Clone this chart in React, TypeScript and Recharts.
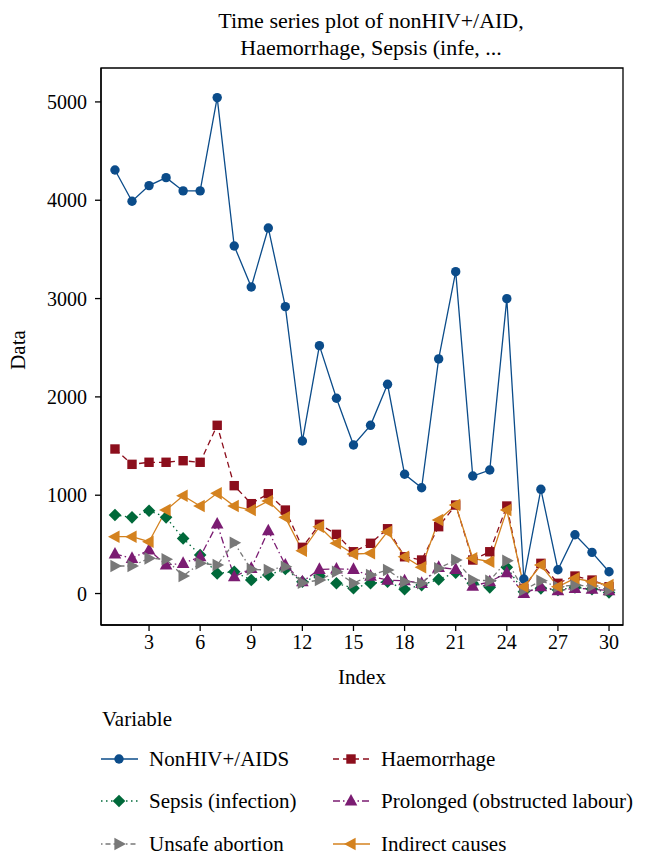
import React from 'react';
import { LineChart, Line, XAxis, YAxis, ReferenceArea } from 'recharts';

const indexLabels = [1, 2, 3, 4, 5, 6, 7, 8, 9, 10, 11, 12, 13, 14, 15, 16, 17, 18, 19, 20, 21, 22, 23, 24, 25, 26, 27, 28, 29, 30];
const nonHIV = [4308, 3990, 4149, 4230, 4095, 4095, 5044, 3535, 3118, 3718, 2918, 1551, 2521, 1986, 1511, 1711, 2128, 1213, 1076, 2386, 3274, 1195, 1256, 2999, 148, 1060, 242, 598, 419, 222];
const haemorrhage = [1470, 1314, 1335, 1335, 1351, 1335, 1711, 1097, 914, 1015, 849, 470, 704, 602, 425, 511, 659, 374, 341, 680, 900, 341, 425, 890, 53, 307, 104, 178, 137, 69];
const sepsis = [799, 775, 842, 775, 561, 392, 205, 222, 137, 188, 250, 120, 180, 104, 55, 104, 120, 43, 86, 144, 212, 104, 63, 267, 18, 53, 36, 63, 45, 10];
const prolonged = [402, 358, 443, 290, 307, 374, 707, 171, 256, 639, 290, 120, 246, 250, 246, 178, 137, 130, 104, 267, 246, 76, 120, 212, 2, 69, 30, 53, 45, 30];
const unsafe = [280, 280, 358, 348, 178, 307, 290, 517, 246, 239, 273, 110, 137, 222, 104, 188, 239, 120, 104, 256, 341, 137, 130, 334, 36, 130, 69, 86, 76, 36];
const indirect = [578, 578, 527, 849, 995, 890, 1019, 890, 849, 941, 775, 435, 680, 511, 402, 409, 629, 374, 267, 748, 900, 358, 324, 849, 69, 290, 69, 155, 120, 86];

const xTicks = [3, 6, 9, 12, 15, 18, 21, 24, 27, 30];
const yTicks = [0, 1000, 2000, 3000, 4000, 5000];
const titleLines = ['Time series plot of nonHIV+/AID,', 'Haemorrhage, Sepsis (infe, ...'];

const FONT = '"Liberation Serif", "Times New Roman", serif';

const data = indexLabels.map((idx, i) => ({
  idx,
  nonHIV: nonHIV[i],
  haemorrhage: haemorrhage[i],
  sepsis: sepsis[i],
  prolonged: prolonged[i],
  unsafe: unsafe[i],
  indirect: indirect[i],
}));

type Shape = 'circle' | 'square' | 'diamond' | 'up' | 'right' | 'left';

function marker(shape: Shape, cx: number, cy: number, color: string, key?: string | number) {
  switch (shape) {
    case 'circle':
      return <circle key={key} cx={cx} cy={cy} r={4.7} fill={color} />;
    case 'square':
      return <rect key={key} x={cx - 4.7} y={cy - 4.7} width={9.4} height={9.4} fill={color} />;
    case 'diamond':
      return <polygon key={key} points={`${cx},${cy - 6.3} ${cx + 6.3},${cy} ${cx},${cy + 6.3} ${cx - 6.3},${cy}`} fill={color} />;
    case 'up':
      return <polygon key={key} points={`${cx},${cy - 7} ${cx + 6.3},${cy + 4.6} ${cx - 6.3},${cy + 4.6}`} fill={color} />;
    case 'right':
      return <polygon key={key} points={`${cx + 7},${cy} ${cx - 4.6},${cy - 6.3} ${cx - 4.6},${cy + 6.3}`} fill={color} />;
    case 'left':
      return <polygon key={key} points={`${cx - 7},${cy} ${cx + 4.6},${cy - 6.3} ${cx + 4.6},${cy + 6.3}`} fill={color} />;
  }
  return null;
}

const series = [
  { key: 'nonHIV', name: 'NonHIV+/AIDS', color: '#0B4C8A', dash: undefined as string | undefined, shape: 'circle' as Shape },
  { key: 'haemorrhage', name: 'Haemorrhage', color: '#8C0E1C', dash: '6 4', shape: 'square' as Shape },
  { key: 'sepsis', name: 'Sepsis (infection)', color: '#00693A', dash: '1.5 3.5', shape: 'diamond' as Shape },
  { key: 'prolonged', name: 'Prolonged (obstructed labour)', color: '#7B1C72', dash: '7 3 1.5 3', shape: 'up' as Shape },
  { key: 'unsafe', name: 'Unsafe abortion', color: '#787878', dash: '1.5 3 5 3', shape: 'right' as Shape },
  { key: 'indirect', name: 'Indirect causes', color: '#D4821F', dash: undefined as string | undefined, shape: 'left' as Shape },
];

const legendPos = [
  { x: 101, y: 759 },
  { x: 333, y: 759 },
  { x: 101, y: 801 },
  { x: 333, y: 801 },
  { x: 101, y: 844 },
  { x: 333, y: 844 },
];

export default function App() {
  return (
    <div style={{ position: 'absolute', left: 0, top: 0, width: 645, height: 857, background: '#fff' }}>
      <LineChart
        width={645}
        height={857}
        data={data}
        margin={{ top: 68, right: 22, left: 0, bottom: 172 }}
      >
        <XAxis
          dataKey="idx"
          type="number"
          domain={[0.18, 30.82]}
          ticks={xTicks}
          allowDataOverflow
          height={60}
          tickSize={6}
          tickMargin={4}
          tick={{ fontSize: 20, fill: '#000', fontFamily: FONT }}
          axisLine={{ stroke: '#000', strokeWidth: 1.3 }}
          tickLine={{ stroke: '#000', strokeWidth: 1.3 }}
        />
        <YAxis
          type="number"
          domain={[-320, 5345]}
          ticks={yTicks}
          allowDataOverflow
          width={101}
          tickSize={6}
          tickMargin={8}
          tick={{ fontSize: 20, fill: '#000', fontFamily: FONT }}
          axisLine={{ stroke: '#000', strokeWidth: 1.3 }}
          tickLine={{ stroke: '#000', strokeWidth: 1.3 }}
        />
        <ReferenceArea x1={0.18} x2={30.82} y1={-320} y2={5345} fill="none" stroke="#000" strokeWidth={1.3} ifOverflow="visible" />
        {series.map((s) => (
          <Line
            key={s.key}
            dataKey={s.key}
            name={s.name}
            type="linear"
            stroke={s.color}
            strokeWidth={1.3}
            strokeDasharray={s.dash}
            isAnimationActive={false}
            activeDot={false}
            dot={(p: any) => marker(s.shape, p.cx, p.cy, s.color, `${s.key}-${p.index}`)}
          />
        ))}
      </LineChart>
      <svg
        width={645}
        height={857}
        style={{ position: 'absolute', left: 0, top: 0, pointerEvents: 'none' }}
        fontFamily={FONT}
      >
        <text x={371} y={28} textAnchor="middle" fontSize={22} fill="#000">{titleLines[0]}</text>
        <text x={371} y={55} textAnchor="middle" fontSize={22} fill="#000">{titleLines[1]}</text>
        <text x={18} y={350} textAnchor="middle" dominantBaseline="central" fontSize={21} fill="#000" transform="rotate(-90 18 350)">Data</text>
        <text x={362} y={684} textAnchor="middle" fontSize={21} fill="#000">Index</text>
        <text x={102} y={726} fontSize={21} fill="#000">Variable</text>
        {series.map((s, i) => {
          const p = legendPos[i];
          return (
            <g key={s.key}>
              <line x1={p.x} y1={p.y} x2={p.x + 37} y2={p.y} stroke={s.color} strokeWidth={1.3} strokeDasharray={s.dash} />
              {marker(s.shape, p.x + 18, p.y, s.color)}
              <text x={p.x + 48} y={p.y} dominantBaseline="central" fontSize={21} fill="#000">{s.name}</text>
            </g>
          );
        })}
      </svg>
    </div>
  );
}
